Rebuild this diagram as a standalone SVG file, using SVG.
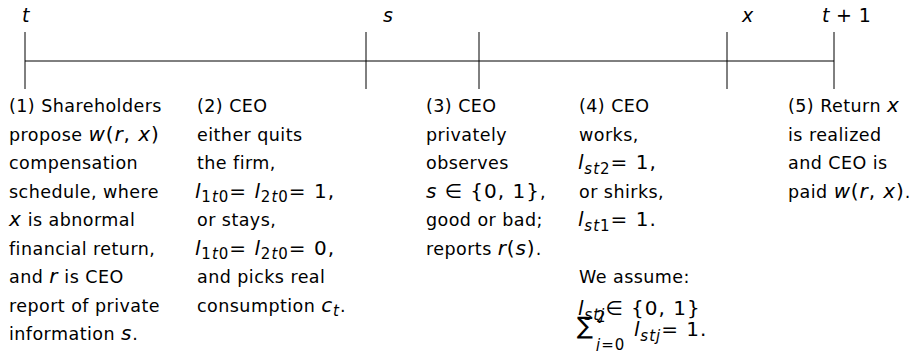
<svg xmlns="http://www.w3.org/2000/svg" width="917" height="351" viewBox="0 0 917 351">
<style>
.tx{font-family:"DejaVu Sans","Liberation Sans",sans-serif;font-size:17.5px;letter-spacing:0.45px;fill:#000}
.mi{font-style:italic;font-size:20px;letter-spacing:0.8px}
.mn{font-style:normal;font-size:20px;letter-spacing:1px}
.sb{font-size:15px;letter-spacing:1px;font-style:normal}
.it{font-style:italic}
.lb{font-size:19px;letter-spacing:0.3px}
.ln{stroke:#000;stroke-width:1;fill:none}
</style>
<rect width="917" height="351" fill="#fff"/>
<g id="timeline">
<line class="ln" x1="25" y1="61" x2="834" y2="61"/>
<line class="ln" x1="25" y1="32" x2="25" y2="89"/>
<line class="ln" x1="366" y1="32" x2="366" y2="89"/>
<line class="ln" x1="479" y1="32" x2="479" y2="89"/>
<line class="ln" x1="727" y1="32" x2="727" y2="89"/>
<line class="ln" x1="834" y1="32" x2="834" y2="89"/>
</g>
<g id="labels">
<text class="tx lb" x="22" y="22"><tspan class="it">t</tspan></text>
<text class="tx lb" x="383" y="22"><tspan class="it">s</tspan></text>
<text class="tx lb" x="742" y="22"><tspan class="it">x</tspan></text>
<text class="tx lb" x="822" y="22"><tspan class="it">t</tspan> + 1</text>
</g>
<g id="event1">
<text class="tx" x="9" y="112">(1) Shareholders</text>
<text class="tx" x="9" y="140.5">propose <tspan class="mi">w</tspan><tspan class="mn">(</tspan><tspan class="mi">r</tspan><tspan class="mn">, </tspan><tspan class="mi">x</tspan><tspan class="mn">)</tspan></text>
<text class="tx" x="9" y="169">compensation</text>
<text class="tx" x="9" y="197.5">schedule, where</text>
<text class="tx" x="9" y="226"><tspan class="mi">x</tspan> is abnormal</text>
<text class="tx" x="9" y="254.5">financial return,</text>
<text class="tx" x="9" y="283">and <tspan class="mi">r</tspan> is CEO</text>
<text class="tx" x="9" y="311.5">report of private</text>
<text class="tx" x="9" y="340">information <tspan class="mi">s</tspan>.</text>
</g>
<g id="event2">
<text class="tx" x="197" y="112">(2) CEO</text>
<text class="tx" x="197" y="140.5">either quits</text>
<text class="tx" x="197" y="169">the firm,</text>
<text class="tx" x="195" y="197.5"><tspan class="mi">l</tspan><tspan class="sb" dy="4.5">1<tspan class="it">t</tspan>0</tspan><tspan class="mn" dy="-4.5">= </tspan><tspan class="mi">l</tspan><tspan class="sb" dy="4.5">2<tspan class="it">t</tspan>0</tspan><tspan class="mn" dy="-4.5">= 1,</tspan></text>
<text class="tx" x="197" y="226">or stays,</text>
<text class="tx" x="195" y="254.5"><tspan class="mi">l</tspan><tspan class="sb" dy="4.5">1<tspan class="it">t</tspan>0</tspan><tspan class="mn" dy="-4.5">= </tspan><tspan class="mi">l</tspan><tspan class="sb" dy="4.5">2<tspan class="it">t</tspan>0</tspan><tspan class="mn" dy="-4.5">= 0,</tspan></text>
<text class="tx" x="197" y="283">and picks real</text>
<text class="tx" x="197" y="311.5">consumption <tspan class="mi">c</tspan><tspan class="sb it" dy="4.5">t</tspan><tspan dy="-4.5">.</tspan></text>
</g>
<g id="event3">
<text class="tx" x="426" y="112">(3) CEO</text>
<text class="tx" x="426" y="140.5">privately</text>
<text class="tx" x="426" y="169">observes</text>
<text class="tx" x="426" y="197.5"><tspan class="mi">s</tspan><tspan class="mn"> ∈ {0, 1}</tspan>,</text>
<text class="tx" x="426" y="226">good or bad;</text>
<text class="tx" x="426" y="254.5">reports <tspan class="mi">r</tspan><tspan class="mn">(</tspan><tspan class="mi">s</tspan><tspan class="mn">)</tspan>.</text>
</g>
<g id="event4">
<text class="tx" x="579" y="112">(4) CEO</text>
<text class="tx" x="579" y="140.5">works,</text>
<text class="tx" x="578" y="169"><tspan class="mi">l</tspan><tspan class="sb it" dy="4.5">st<tspan style="font-style:normal">2</tspan></tspan><tspan class="mn" dy="-4.5">= 1,</tspan></text>
<text class="tx" x="579" y="197.5">or shirks,</text>
<text class="tx" x="578" y="226"><tspan class="mi">l</tspan><tspan class="sb it" dy="4.5">st<tspan style="font-style:normal">1</tspan></tspan><tspan class="mn" dy="-4.5">= 1.</tspan></text>
<text class="tx" x="579" y="283">We assume:</text>
<text class="tx" x="578" y="315"><tspan class="mi">l</tspan><tspan class="sb it" dy="4.5">stj</tspan><tspan class="mn" dy="-4.5">∈ {0, 1}</tspan></text>
<text class="tx" x="577" y="334" style="font-size:24px;letter-spacing:0">∑</text>
<text class="tx" x="596" y="322"><tspan class="sb">2</tspan></text>
<text class="tx" x="596" y="350"><tspan class="sb"><tspan class="it">j</tspan>=0</tspan></text>
<text class="tx" x="634" y="336"><tspan class="mi">l</tspan><tspan class="sb it" dy="4.5">stj</tspan><tspan class="mn" dy="-4.5">= 1.</tspan></text>
</g>
<g id="event5">
<text class="tx" x="788" y="112">(5) Return <tspan class="mi">x</tspan></text>
<text class="tx" x="788" y="140.5">is realized</text>
<text class="tx" x="788" y="169">and CEO is</text>
<text class="tx" x="788" y="197.5">paid <tspan class="mi">w</tspan><tspan class="mn">(</tspan><tspan class="mi">r</tspan><tspan class="mn">, </tspan><tspan class="mi">x</tspan><tspan class="mn">)</tspan>.</text>
</g>
</svg>
